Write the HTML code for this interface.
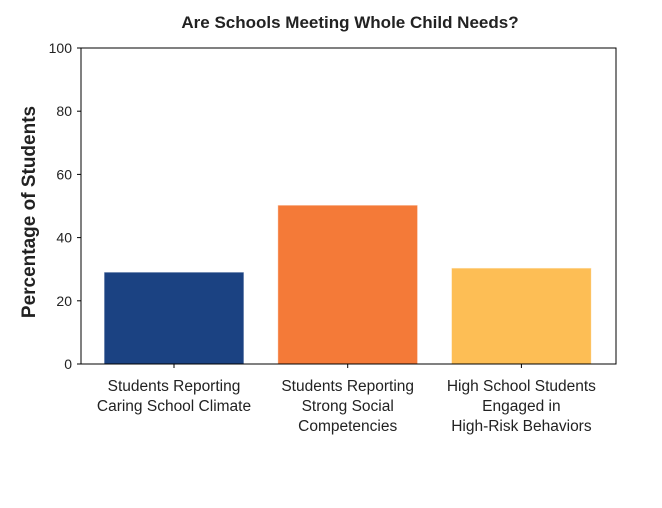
<!DOCTYPE html>
<html><head><meta charset="utf-8"><style>
body{margin:0;background:#fff;width:662px;height:503px;overflow:hidden}
text{font-family:"Liberation Sans",Arial,sans-serif;fill:#222}
</style></head><body>
<svg id="chart" width="662" height="503">
<text x="350" y="28" text-anchor="middle" font-size="17" font-weight="bold">Are Schools Meeting Whole Child Needs?</text>
<text transform="translate(35,212) rotate(-90)" text-anchor="middle" font-size="19" font-weight="bold">Percentage of Students</text>
<g id="yaxis"></g><g id="bars"></g><g id="xaxis"></g>
<rect x="81" y="48" width="535" height="316" fill="none" stroke="#000" stroke-width="1"/>
</svg>
<script>
const categories=[["Students Reporting","Caring School Climate"],["Students Reporting","Strong Social","Competencies"],["High School Students","Engaged in","High-Risk Behaviors"]];
const values=[29.1,50.3,30.4];
const colors=["#1b4282","#f47a38","#fdbe55"];
const yTicks=[0,20,40,60,80,100];
const NS="http://www.w3.org/2000/svg";
const L=81,R=616,T=48,B=364;
function y(v){return B-(v/100)*(B-T);}
function xc(i){return 174+i*173.7;}
const bw=140;
function mk(tag,attrs,parent){const e=document.createElementNS(NS,tag);for(const k in attrs)e.setAttribute(k,attrs[k]);parent.appendChild(e);return e;}
const ya=document.getElementById('yaxis'),bg=document.getElementById('bars'),xa=document.getElementById('xaxis');
yTicks.forEach(t=>{
 const l=mk('line',{x1:L-4,x2:L,y1:y(t),y2:y(t),stroke:'#000'},ya);
 
 
 const tx=mk('text',{x:L-9,y:y(t)+5,'text-anchor':'end','font-size':'14'},ya);
 tx.textContent=t;
 
 
});
values.forEach((v,i)=>{
 const r=mk('rect',{x:xc(i)-bw/2,y:y(v),width:bw,height:B-y(v),fill:colors[i],stroke:'rgba(255,255,255,0.7)','stroke-width':1},bg);
 
 
 const tk=mk('line',{x1:xc(i),x2:xc(i),y1:B,y2:B+4,stroke:'#000'},xa);
 
 
 categories[i].forEach((line,j)=>{
  const tx=mk('text',{x:xc(i),y:391+j*20,'text-anchor':'middle','font-size':'15.5'},xa);
  tx.textContent=line;
  
  
 });
});
</script>
</body></html>
